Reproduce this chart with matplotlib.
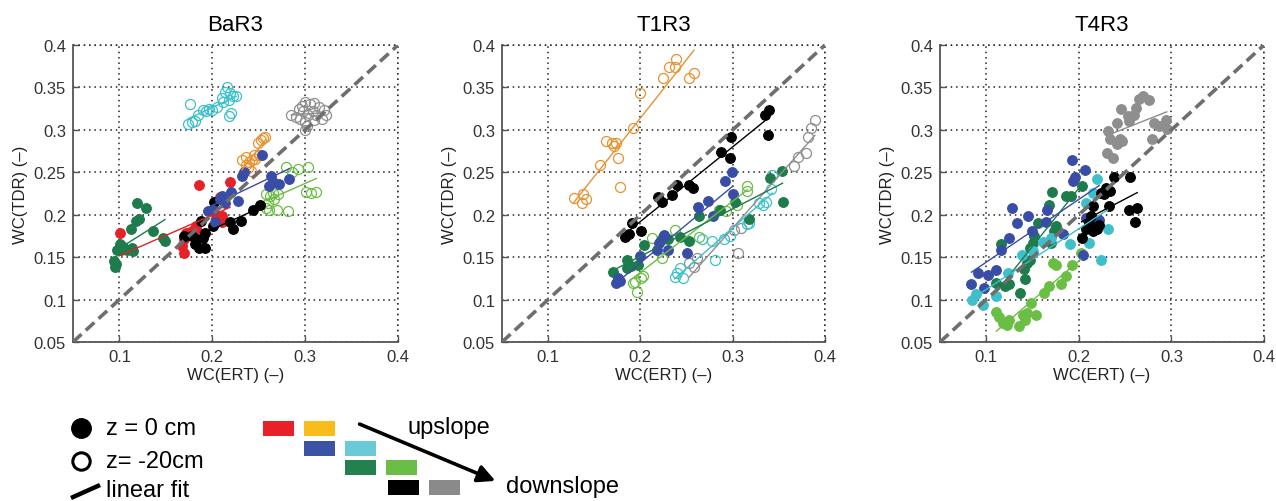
import numpy as np
import matplotlib
matplotlib.use("Agg")
import matplotlib.pyplot as plt
from matplotlib.lines import Line2D
from matplotlib.patches import Rectangle, FancyArrowPatch

plt.rcParams['font.family'] = ['Liberation Sans', 'DejaVu Sans']

W, H = 1276, 502

# ---------------- data: WC(ERT) vs WC(TDR) ----------------
panel_titles = ["BaR3", "T1R3", "T4R3"]
ticks_x = [0.1, 0.2, 0.3, 0.4]
ticks_y = [0.05, 0.1, 0.15, 0.2, 0.25, 0.3, 0.35, 0.4]
tick_labels_x = ["0.1", "0.2", "0.3", "0.4"]
tick_labels_y = ["0.05", "0.1", "0.15", "0.2", "0.25", "0.3", "0.35", "0.4"]

# BaR3
bar3_red_x = [0.101, 0.167, 0.169, 0.169, 0.172, 0.178, 0.183, 0.183, 0.186, 0.204, 0.208, 0.210, 0.211, 0.219]
bar3_red_y = [0.178, 0.163, 0.155, 0.171, 0.178, 0.181, 0.183, 0.187, 0.235, 0.200, 0.221, 0.191, 0.198, 0.238]
bar3_orange_x = [0.232, 0.236, 0.238, 0.240, 0.242, 0.243, 0.245, 0.246, 0.249, 0.250, 0.252, 0.255, 0.257, 0.236]
bar3_orange_y = [0.265, 0.268, 0.255, 0.262, 0.252, 0.264, 0.270, 0.266, 0.285, 0.270, 0.288, 0.290, 0.292, 0.258]
bar3_blue_x = [0.195, 0.201, 0.203, 0.208, 0.211, 0.214, 0.220, 0.228, 0.232, 0.234, 0.254, 0.261, 0.263, 0.265, 0.272, 0.283]
bar3_blue_y = [0.204, 0.206, 0.191, 0.218, 0.222, 0.214, 0.227, 0.216, 0.246, 0.250, 0.270, 0.234, 0.246, 0.238, 0.236, 0.242]
bar3_cyan_x = [0.176, 0.174, 0.178, 0.181, 0.185, 0.190, 0.193, 0.196, 0.200, 0.205, 0.211, 0.214, 0.216, 0.219, 0.222, 0.218, 0.226, 0.220, 0.218, 0.212]
bar3_cyan_y = [0.331, 0.307, 0.309, 0.310, 0.318, 0.323, 0.322, 0.324, 0.323, 0.327, 0.337, 0.345, 0.350, 0.344, 0.340, 0.335, 0.340, 0.320, 0.316, 0.333]
bar3_dkgreen_x = [0.119, 0.129, 0.121, 0.118, 0.112, 0.136, 0.147, 0.149, 0.101, 0.097, 0.102, 0.108, 0.113, 0.115, 0.094, 0.095, 0.096, 0.104]
bar3_dkgreen_y = [0.214, 0.208, 0.195, 0.193, 0.183, 0.181, 0.172, 0.169, 0.165, 0.159, 0.159, 0.159, 0.161, 0.157, 0.146, 0.138, 0.142, 0.162]
bar3_ltgreen_x = [0.279, 0.303, 0.292, 0.286, 0.258, 0.262, 0.265, 0.260, 0.261, 0.270, 0.281, 0.301, 0.306, 0.312, 0.271, 0.266, 0.258]
bar3_ltgreen_y = [0.256, 0.256, 0.254, 0.250, 0.224, 0.222, 0.226, 0.214, 0.206, 0.206, 0.204, 0.227, 0.226, 0.227, 0.224, 0.218, 0.208]
bar3_black_x = [0.202, 0.201, 0.192, 0.190, 0.183, 0.186, 0.192, 0.181, 0.178, 0.219, 0.222, 0.231, 0.244, 0.251, 0.170, 0.188]
bar3_black_y = [0.215, 0.187, 0.179, 0.173, 0.171, 0.161, 0.161, 0.165, 0.175, 0.191, 0.183, 0.193, 0.205, 0.212, 0.175, 0.193]
bar3_gray_x = [0.297, 0.300, 0.305, 0.310, 0.315, 0.320, 0.322, 0.318, 0.310, 0.303, 0.300, 0.295, 0.290, 0.285, 0.300, 0.302, 0.308, 0.293, 0.298, 0.312]
bar3_gray_y = [0.328, 0.333, 0.330, 0.332, 0.327, 0.323, 0.317, 0.313, 0.312, 0.318, 0.309, 0.313, 0.315, 0.318, 0.300, 0.305, 0.322, 0.325, 0.322, 0.318]

# T1R3
t1r3_orange_x = [0.128, 0.138, 0.137, 0.141, 0.156, 0.163, 0.169, 0.174, 0.171, 0.176, 0.178, 0.192, 0.199, 0.224, 0.231, 0.237, 0.239, 0.253, 0.258]
t1r3_orange_y = [0.220, 0.224, 0.214, 0.219, 0.258, 0.287, 0.285, 0.284, 0.281, 0.267, 0.233, 0.302, 0.344, 0.361, 0.374, 0.374, 0.384, 0.361, 0.367]
t1r3_black_x = [0.183, 0.188, 0.191, 0.201, 0.219, 0.223, 0.234, 0.240, 0.253, 0.257, 0.287, 0.297, 0.298, 0.335, 0.339, 0.338]
t1r3_black_y = [0.174, 0.177, 0.190, 0.181, 0.221, 0.215, 0.223, 0.235, 0.235, 0.232, 0.274, 0.267, 0.291, 0.317, 0.323, 0.294]
t1r3_blue_x = [0.174, 0.178, 0.176, 0.199, 0.218, 0.226, 0.230, 0.251, 0.262, 0.273, 0.279, 0.292, 0.299, 0.300, 0.220]
t1r3_blue_y = [0.119, 0.122, 0.125, 0.151, 0.159, 0.176, 0.159, 0.155, 0.209, 0.216, 0.198, 0.240, 0.250, 0.224, 0.167]
t1r3_dkgreen_x = [0.170, 0.185, 0.185, 0.190, 0.197, 0.204, 0.222, 0.230, 0.243, 0.253, 0.264, 0.286, 0.302, 0.318, 0.340, 0.353, 0.354]
t1r3_dkgreen_y = [0.132, 0.147, 0.137, 0.139, 0.141, 0.164, 0.170, 0.171, 0.174, 0.169, 0.199, 0.206, 0.215, 0.195, 0.243, 0.251, 0.215]
t1r3_ltgreen_x = [0.192, 0.196, 0.194, 0.201, 0.203, 0.213, 0.223, 0.224, 0.238, 0.264, 0.285, 0.293, 0.305, 0.316, 0.315]
t1r3_ltgreen_y = [0.119, 0.109, 0.121, 0.126, 0.128, 0.172, 0.149, 0.174, 0.182, 0.174, 0.205, 0.204, 0.211, 0.234, 0.228]
t1r3_cyan_x = [0.237, 0.240, 0.243, 0.246, 0.267, 0.278, 0.281, 0.291, 0.297, 0.315, 0.318, 0.328, 0.336, 0.341, 0.343, 0.333]
t1r3_cyan_y = [0.127, 0.131, 0.137, 0.126, 0.171, 0.169, 0.147, 0.171, 0.175, 0.189, 0.190, 0.214, 0.215, 0.230, 0.247, 0.212]
t1r3_gray_x = [0.253, 0.258, 0.261, 0.306, 0.301, 0.309, 0.366, 0.371, 0.379, 0.382, 0.385, 0.389]
t1r3_gray_y = [0.143, 0.138, 0.149, 0.155, 0.182, 0.184, 0.257, 0.268, 0.273, 0.291, 0.302, 0.312]

# T4R3
t4r3_gray_x = [0.231, 0.234, 0.230, 0.237, 0.241, 0.244, 0.241, 0.245, 0.253, 0.260, 0.262, 0.265, 0.269, 0.276, 0.281, 0.287, 0.294, 0.295, 0.254, 0.247, 0.279]
t4r3_gray_y = [0.299, 0.289, 0.273, 0.267, 0.283, 0.289, 0.308, 0.324, 0.316, 0.318, 0.326, 0.336, 0.340, 0.335, 0.308, 0.304, 0.312, 0.301, 0.310, 0.287, 0.289]
t4r3_black_x = [0.203, 0.208, 0.211, 0.215, 0.220, 0.222, 0.213, 0.215, 0.224, 0.229, 0.234, 0.238, 0.233, 0.255, 0.254, 0.263, 0.261, 0.227]
t4r3_black_y = [0.173, 0.183, 0.190, 0.181, 0.183, 0.188, 0.198, 0.210, 0.226, 0.231, 0.228, 0.244, 0.210, 0.245, 0.206, 0.208, 0.192, 0.224]
t4r3_blue_x = [0.084, 0.091, 0.098, 0.102, 0.111, 0.116, 0.125, 0.128, 0.133, 0.145, 0.149, 0.165, 0.166, 0.183, 0.193, 0.196, 0.194, 0.207, 0.208, 0.204, 0.222]
t4r3_blue_y = [0.118, 0.131, 0.114, 0.129, 0.135, 0.159, 0.172, 0.208, 0.190, 0.198, 0.181, 0.192, 0.206, 0.177, 0.264, 0.245, 0.240, 0.253, 0.196, 0.153, 0.194]
t4r3_dkgreen_x = [0.116, 0.111, 0.120, 0.125, 0.136, 0.141, 0.142, 0.144, 0.147, 0.147, 0.150, 0.152, 0.156, 0.168, 0.171, 0.175, 0.170, 0.186, 0.192, 0.203, 0.173]
t4r3_dkgreen_y = [0.165, 0.120, 0.116, 0.118, 0.108, 0.136, 0.124, 0.143, 0.147, 0.161, 0.167, 0.175, 0.190, 0.212, 0.227, 0.187, 0.167, 0.222, 0.222, 0.234, 0.181]
t4r3_cyan_x = [0.085, 0.089, 0.096, 0.111, 0.123, 0.139, 0.150, 0.161, 0.170, 0.190, 0.211, 0.213, 0.208, 0.215, 0.220, 0.224, 0.231]
t4r3_cyan_y = [0.100, 0.106, 0.094, 0.104, 0.131, 0.153, 0.157, 0.168, 0.173, 0.165, 0.167, 0.186, 0.214, 0.226, 0.242, 0.147, 0.183]
t4r3_ltgreen_x = [0.111, 0.114, 0.118, 0.122, 0.125, 0.135, 0.142, 0.144, 0.148, 0.154, 0.162, 0.168, 0.172, 0.175, 0.181, 0.186, 0.193, 0.202, 0.140]
t4r3_ltgreen_y = [0.085, 0.080, 0.072, 0.070, 0.076, 0.069, 0.076, 0.084, 0.096, 0.082, 0.108, 0.116, 0.143, 0.141, 0.118, 0.128, 0.141, 0.155, 0.082]

# ---------------- styles ----------------
C_RED = '#E42228'
C_ORANGE = '#E8922E'
C_BLUE = '#3A4DA6'
C_CYAN = '#3EC0CA'
C_DKGREEN = '#1E7B4B'
C_LTGREEN = '#6BBE44'
C_BLACK = '#000000'
C_GRAY = '#8E8E8E'

# (x, y, color, filled)
panels = [
    [(bar3_red_x, bar3_red_y, C_RED, True),
     (bar3_orange_x, bar3_orange_y, C_ORANGE, False),
     (bar3_cyan_x, bar3_cyan_y, C_CYAN, False),
     (bar3_gray_x, bar3_gray_y, C_GRAY, False),
     (bar3_ltgreen_x, bar3_ltgreen_y, C_LTGREEN, False),
     (bar3_dkgreen_x, bar3_dkgreen_y, C_DKGREEN, True),
     (bar3_black_x, bar3_black_y, C_BLACK, True),
     (bar3_blue_x, bar3_blue_y, C_BLUE, True)],
    [(t1r3_orange_x, t1r3_orange_y, C_ORANGE, False),
     (t1r3_gray_x, t1r3_gray_y, C_GRAY, False),
     (t1r3_cyan_x, t1r3_cyan_y, C_CYAN, False),
     (t1r3_ltgreen_x, t1r3_ltgreen_y, C_LTGREEN, False),
     (t1r3_dkgreen_x, t1r3_dkgreen_y, C_DKGREEN, True),
     (t1r3_blue_x, t1r3_blue_y, C_BLUE, True),
     (t1r3_black_x, t1r3_black_y, C_BLACK, True)],
    [(t4r3_gray_x, t4r3_gray_y, C_GRAY, True),
     (t4r3_ltgreen_x, t4r3_ltgreen_y, C_LTGREEN, True),
     (t4r3_dkgreen_x, t4r3_dkgreen_y, C_DKGREEN, True),
     (t4r3_blue_x, t4r3_blue_y, C_BLUE, True),
     (t4r3_cyan_x, t4r3_cyan_y, C_CYAN, True),
     (t4r3_black_x, t4r3_black_y, C_BLACK, True)],
]

fig = plt.figure(figsize=(W / 100, H / 100), dpi=100)


def px_rect(left, top, right, bottom):
    return [left / W, 1 - bottom / H, (right - left) / W, (bottom - top) / H]


axes_px = [(73, 46, 398, 343), (502, 46, 825, 343), (940, 46, 1264, 343)]
TICK_COLOR = '#333333'

for title, series, box in zip(panel_titles, panels, axes_px):
    ax = fig.add_axes(px_rect(*box))
    ax.set_xlim(0.05, 0.4)
    ax.set_ylim(0.05, 0.4)
    ax.set_xticks(ticks_x)
    ax.set_xticklabels(tick_labels_x)
    ax.set_yticks(ticks_y)
    ax.set_yticklabels(tick_labels_y)
    ax.tick_params(direction='in', length=4, width=1, colors='#555555',
                   labelcolor=TICK_COLOR, labelsize=12, pad=5)
    ax.grid(True, linestyle=(0, (1, 2.5)), color='#222222', linewidth=1.1)
    for s in ('top', 'right'):
        ax.spines[s].set_visible(False)
    for s in ('left', 'bottom'):
        ax.spines[s].set_color('#555555')
        ax.spines[s].set_linewidth(1.3)
    # gridlines at the upper limits take the place of the frame
    ax.axhline(0.4, linestyle=(0, (1, 2.5)), color='#222222', linewidth=1.1, clip_on=False)
    ax.axvline(0.4, linestyle=(0, (1, 2.5)), color='#222222', linewidth=1.1, clip_on=False)

    for x, y, color, filled in series:
        x = np.asarray(x)
        y = np.asarray(y)
        if filled:
            ax.plot(x, y, 'o', ms=7, mfc=color, mec=color, mew=0.8, zorder=3)
        else:
            ax.plot(x, y, 'o', ms=7.2, mfc='none', mec=color, mew=0.9, zorder=3)
        k, b = np.polyfit(x, y, 1)
        xs = np.array([x.min(), x.max()])
        ax.plot(xs, k * xs + b, '-', color=color, lw=1.0, zorder=4)

    ax.plot([0.05, 0.4], [0.05, 0.4], color='#6E6E6E', lw=2.6,
            linestyle=(0, (3.2, 1.6)), zorder=5)

    ax.set_title(title, fontsize=16, pad=11)
    ax.set_xlabel('WC(ERT) (\u2013)', fontsize=12, color='#222222', labelpad=2)
    ax.set_ylabel('WC(TDR) (\u2013)', fontsize=12, color='#222222', labelpad=4)

# ---------------- key below the panels ----------------
def fx(x):
    return x / W


def fy(y):
    return 1 - y / H


fig.add_artist(Line2D([fx(81)], [fy(429)], marker='o', ms=14, mfc='black',
                      mec='black', transform=fig.transFigure))
fig.add_artist(Line2D([fx(81)], [fy(462)], marker='o', ms=12.5, mfc='none',
                      mec='black', mew=2.2, transform=fig.transFigure))
fig.add_artist(Line2D([fx(71), fx(100)], [fy(499), fy(486)], color='black',
                      lw=3.2, solid_capstyle='butt', transform=fig.transFigure))

key_font = 17
fig.text(fx(106), fy(429), 'z = 0 cm', fontsize=key_font, va='center', ha='left')
fig.text(fx(106), fy(462), 'z= -20cm', fontsize=key_font, va='center', ha='left')
fig.text(fx(106), fy(491), 'linear fit', fontsize=key_font, va='center', ha='left')

key_colors = ['#E8202A', '#F8BC1C', '#3B53A4', '#6CCAD8',
              '#23804F', '#6ABD45', '#000000', '#8A8A8A']
key_left = [263, 304, 304, 345, 345, 386, 388, 429]
key_top = [422, 422, 442, 442, 461, 461, 481, 481]
for c, l, t in zip(key_colors, key_left, key_top):
    fig.add_artist(Rectangle((fx(l), fy(t + 15)), 31 / W, 15 / H, facecolor=c,
                             edgecolor='none', transform=fig.transFigure))

fig.add_artist(FancyArrowPatch((fx(357), fy(424)), (fx(498), fy(483)),
                               arrowstyle='-|>', mutation_scale=26, lw=2.6,
                               color='black', transform=fig.transFigure))
fig.text(fx(407), fy(428), 'upslope', fontsize=key_font, va='center', ha='left')
fig.text(fx(506), fy(487), 'downslope', fontsize=key_font, va='center', ha='left')

fig.savefig('out.png', dpi=100)
